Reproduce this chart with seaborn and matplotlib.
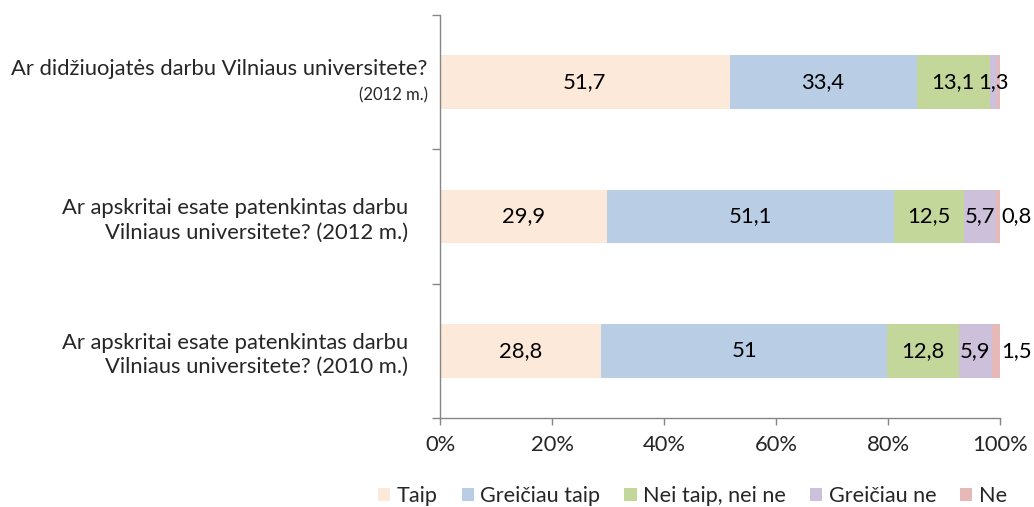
import matplotlib.pyplot as plt
import numpy as np
import pandas as pd
import seaborn as sns
from matplotlib.patches import Patch

sns.set_style('white')
plt.rcParams['font.family'] = ['Lato', 'DejaVu Sans']

# Data
questions = ['q1', 'q2', 'q3']
answers = ['Taip', 'Greičiau taip', 'Nei taip, nei ne', 'Greičiau ne', 'Ne']
taip = [51.7, 29.9, 28.8]
greiciau_taip = [33.4, 51.1, 51.0]
nei_taip = [13.1, 12.5, 12.8]
greiciau_ne = [1.3, 5.7, 5.9]
ne = [0.5, 0.8, 1.5]
labels_ne = ['', '0,8', '1,5']
colors = ['#FDE9D9', '#B9CDE5', '#C4D79B', '#CCC0DA', '#E6B9B8']

df = pd.DataFrame({'question': questions, 'Taip': taip, 'Greičiau taip': greiciau_taip,
                   'Nei taip, nei ne': nei_taip, 'Greičiau ne': greiciau_ne, 'Ne': ne})
cum = df[answers].cumsum(axis=1)

FS = 15.8

fig = plt.figure(figsize=(10.34, 5.07), dpi=100)
ax = fig.add_axes([440 / 1034, 1 - 418 / 507, 560 / 1034, 403 / 507])

# stacked bars: draw cumulative totals from the widest down
for ans, col in reversed(list(zip(answers, colors))):
    sns.barplot(x=cum[ans], y=df['question'], color=col, orient='h', width=0.4,
                edgecolor='none', linewidth=0, saturation=1, ax=ax)

# value labels
for i in range(len(questions)):
    for j, ans in enumerate(answers[:-1]):
        v = df[ans][i]
        mid = cum[ans][i] - v / 2
        txt = ('%g' % v).replace('.', ',')
        ax.text(mid, i, txt, ha='center', va='center', fontsize=FS, color='black')
    if labels_ne[i]:
        ax.text(100.3, i, labels_ne[i], ha='left', va='center', fontsize=FS, color='black')

ax.set_xlim(0, 100)
ax.set_ylim(2.5, -0.5)
ax.set_xticks(np.arange(0, 101, 20))
ax.set_xticklabels(['%d%%' % t for t in range(0, 101, 20)], fontsize=FS)
ax.set_xlabel('')
ax.set_ylabel('')

# category labels
ax.set_yticks([0, 1, 2])
ax.set_yticklabels(['', 'Ar apskritai esate patenkintas darbu\nVilniaus universitete? (2012 m.)',
                    'Ar apskritai esate patenkintas darbu\nVilniaus universitete? (2010 m.)'],
                   fontsize=FS, linespacing=1.25)
ax.tick_params(axis='y', which='major', left=True, length=0, pad=23)
ax.set_yticks([-0.5, 0.5, 1.5, 2.5], minor=True)
ax.tick_params(axis='y', which='minor', left=True, length=6, width=1, color='#868686', direction='out')
ax.tick_params(axis='x', bottom=True, length=5, width=1, color='#868686', direction='out', pad=7)

ax.text(-0.022, 0.0 - 0.1, 'Ar didžiuojatės darbu Vilniaus universitete?', transform=ax.get_yaxis_transform(),
        ha='right', va='center', fontsize=FS)
ax.text(-0.022, 0.0 + 0.1, '(2012 m.)', transform=ax.get_yaxis_transform(),
        ha='right', va='center', fontsize=12)

for s in ['top', 'right']:
    ax.spines[s].set_visible(False)
for s in ['left', 'bottom']:
    ax.spines[s].set_color('#868686')
    ax.spines[s].set_linewidth(1)

handles = [Patch(facecolor=c, edgecolor='none', label=a) for a, c in zip(answers, colors)]
fig.legend(handles=handles, loc='center left', bbox_to_anchor=(378 / 1034, 1 - 496 / 507), ncol=5,
           frameon=False, fontsize=15.6, handlelength=0.57, handleheight=0.57,
           handletextpad=0.3, columnspacing=1.1, borderpad=0, borderaxespad=0)

fig.savefig('out.png', dpi=100)
